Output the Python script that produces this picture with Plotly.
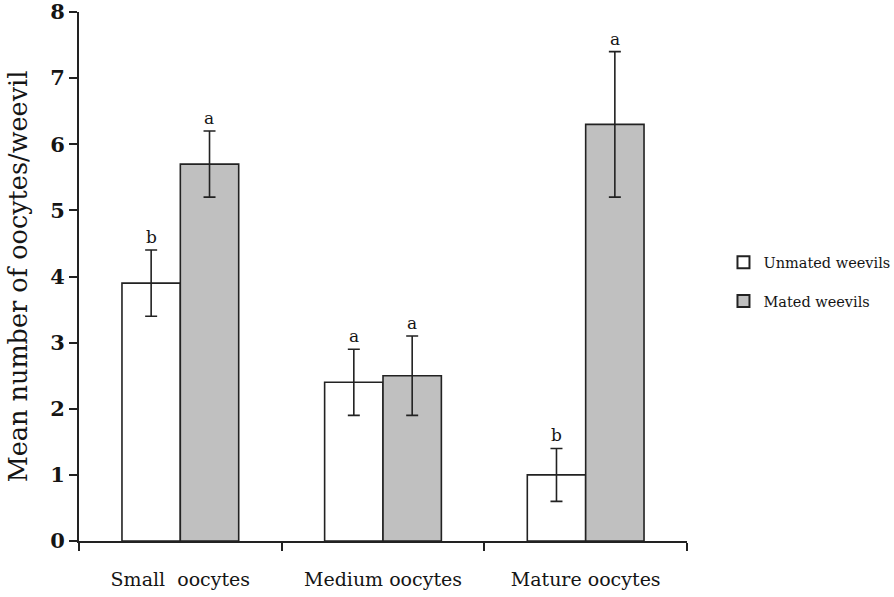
import plotly.graph_objects as go

categories = ["Small  oocytes", "Medium oocytes", "Mature oocytes"]
unmated = [3.9, 2.4, 1.0]
unmated_err = [0.5, 0.5, 0.4]
unmated_letters = ["b", "a", "b"]
mated = [5.7, 2.5, 6.3]
mated_err = [0.5, 0.6, 1.1]
mated_letters = ["a", "a", "a"]
y_ticks = [0, 1, 2, 3, 4, 5, 6, 7, 8]

FONT = "DejaVu Serif"
INK = "#151515"

fig = go.Figure()
fig.add_trace(go.Bar(
    x=categories, y=unmated, name="Unmated weevils",
    marker=dict(color="white", line=dict(color="#222", width=1.6)),
    error_y=dict(type="data", array=unmated_err, color="#222", thickness=1.6, width=6),
    offsetgroup="u", legendgroup="u",
))
fig.add_trace(go.Bar(
    x=categories, y=mated, name="Mated weevils",
    marker=dict(color="#c0c0c0", line=dict(color="#222", width=1.6)),
    error_y=dict(type="data", array=mated_err, color="#222", thickness=1.6, width=6),
    offsetgroup="m", legendgroup="m",
))

annotations = []
for i, c in enumerate(categories):
    annotations.append(dict(x=c, y=unmated[i] + unmated_err[i], text=unmated_letters[i],
                            xref="x", yref="y", showarrow=False, yshift=13, xshift=-29,
                            font=dict(family=FONT, size=17, color=INK)))
    annotations.append(dict(x=c, y=mated[i] + mated_err[i], text=mated_letters[i],
                            xref="x", yref="y", showarrow=False, yshift=13, xshift=29,
                            font=dict(family=FONT, size=17, color=INK)))

fig.update_layout(
    width=894, height=597,
    margin=dict(l=79, r=207, t=12, b=56, autoexpand=False),
    paper_bgcolor="white", plot_bgcolor="white",
    barmode="group", bargap=0.424, bargroupgap=0,
    font=dict(family=FONT, color=INK),
    showlegend=True,
    legend=dict(x=1.06, y=0.49, xanchor="left", yanchor="middle",
                font=dict(family=FONT, size=14.5, color=INK),
                itemsizing="constant", itemwidth=30, tracegroupgap=17,
                bgcolor="rgba(0,0,0,0)"),
    annotations=annotations,
)
fig.update_xaxes(
    type="category", tickson="boundaries", ticks="outside", ticklen=8, tickwidth=2,
    tickcolor="#222", showline=True, linecolor="#222", linewidth=2, showgrid=False,
    tickfont=dict(family=FONT, size=19, color=INK), ticklabelstandoff=20,
    automargin=False,
)
fig.update_yaxes(
    range=[0, 8], tickvals=y_ticks, ticks="outside", ticklen=8, tickwidth=2,
    tickcolor="#222", showline=True, linecolor="#222", linewidth=2, showgrid=False,
    zeroline=False, automargin=False, ticklabeloverflow="allow",
    tickfont=dict(family=FONT, size=21, color=INK, weight="bold"),
    title=dict(text="Mean number of oocytes/weevil", font=dict(family=FONT, size=25.5, color=INK),
               standoff=15),
)

fig.write_html(
    "out.html",
    config={"displayModeBar": False},
    post_script="document.body.style.margin='0';document.body.style.overflow='hidden';",
)
